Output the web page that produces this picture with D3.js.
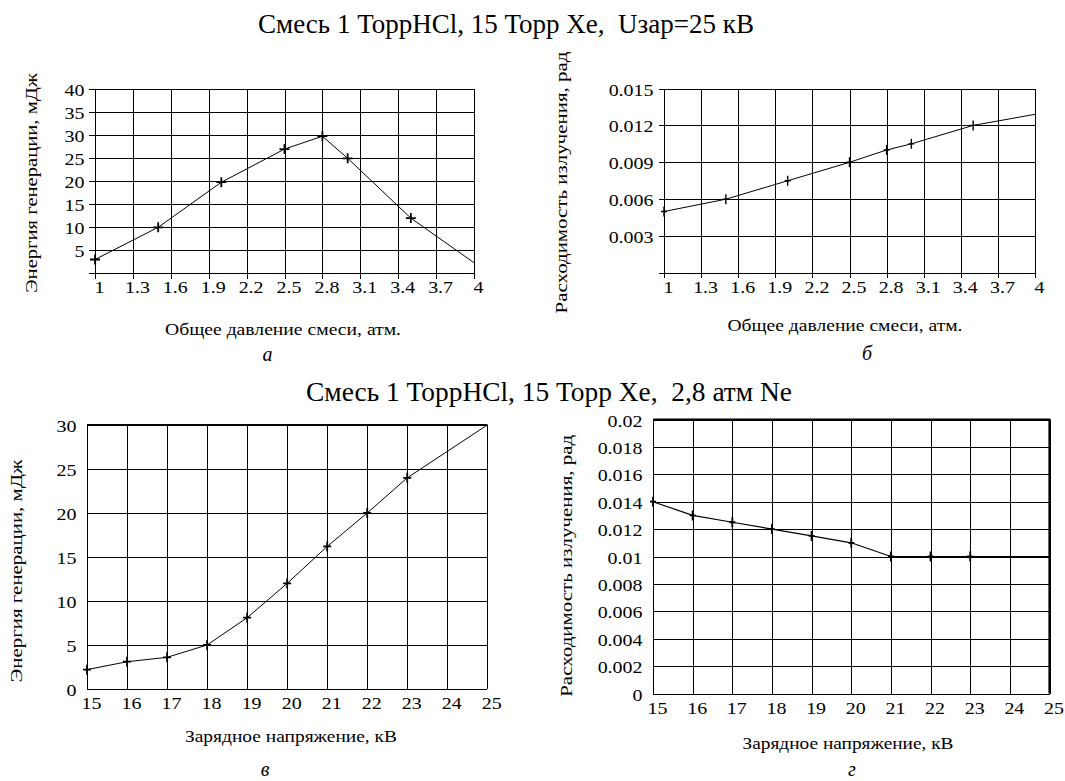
<!DOCTYPE html>
<html><head><meta charset="utf-8">
<script src="https://cdn.jsdelivr.net/npm/d3@7"></script>
<style>
body{margin:0;background:#fff}
svg, svg text{font-family:"Liberation Serif","Times New Roman","DejaVu Serif",serif;fill:#000}
</style>
</head><body>
<svg id="chart" width="1065" height="781" font-family="Liberation Serif"></svg>
<script>
// ---------- data ----------
const titleTop = "Смесь 1 ТоррHCl, 15 Торр Xe,  Uзар=25 кВ";
const titleBottom = "Смесь 1 ТоррHCl, 15 Торр Xe,  2,8 атм Ne";

const pressureA = [1.0, 1.5, 2.0, 2.5, 2.8, 3.0, 3.5, 4.0];
const energyA   = [3.0, 10.0, 19.8, 27.0, 29.8, 25.0, 12.0, 2.3];

const pressureB   = [1.0, 1.5, 2.0, 2.5, 2.8, 3.0, 3.5, 4.0];
const divergenceB = [0.0050, 0.0060, 0.0075, 0.0090, 0.0100, 0.0105, 0.0120, 0.0129];

const voltageC = [15, 16, 17, 18, 19, 20, 21, 22, 23, 25];
const energyC  = [2.2, 3.1, 3.6, 5.0, 8.1, 12.0, 16.2, 20.0, 24.0, 30.0];

const voltageD    = [15, 16, 17, 18, 19, 20, 21, 22, 23, 25];
const divergenceD = [0.014, 0.013, 0.0125, 0.012, 0.0115, 0.011, 0.010, 0.010, 0.010, 0.010];

const ticksPressure = [1, 1.3, 1.6, 1.9, 2.2, 2.5, 2.8, 3.1, 3.4, 3.7, 4];
const ticksEnergyA  = [0, 5, 10, 15, 20, 25, 30, 35, 40];
const labelsEnergyA = ["", "5", "10", "15", "20", "25", "30", "35", "40"];
const ticksDivB     = [0, 0.003, 0.006, 0.009, 0.012, 0.015];
const labelsDivB    = ["", "0.003", "0.006", "0.009", "0.012", "0.015"];
const ticksVoltage  = [15, 16, 17, 18, 19, 20, 21, 22, 23, 24, 25];
const ticksEnergyC  = [0, 5, 10, 15, 20, 25, 30];
const labelsEnergyC = ["0", "5", "10", "15", "20", "25", "30"];
const ticksDivD     = [0, 0.002, 0.004, 0.006, 0.008, 0.01, 0.012, 0.014, 0.016, 0.018, 0.02];
const labelsDivD    = ["0", "0.002", "0.004", "0.006", "0.008", "0.01", "0.012", "0.014", "0.016", "0.018", "0.02"];

const yTitleEnergy = "Энергия генерации, мДж";
const yTitleDiv = "Расходимость излучения, рад";
const xTitlePressure = "Общее давление смеси, атм.";
const xTitleVoltage = "Зарядное напряжение, кВ";
const panelLetters = ["а", "б", "в", "г"];

// ---------- drawing ----------
const svg = d3.select("#chart");
const FONT = "Liberation Serif";
const FS = 17.5, SX = 1.14;

svg.append("text").attr("x", 506).attr("y", 33).attr("text-anchor", "middle")
  .attr("font-family", FONT).attr("font-size", 27.5).attr("textLength", 496).attr("lengthAdjust", "spacingAndGlyphs")
  .style("white-space", "pre").text(titleTop);
svg.append("text").attr("x", 549).attr("y", 401).attr("text-anchor", "middle")
  .attr("font-family", FONT).attr("font-size", 27.5).attr("textLength", 486).attr("lengthAdjust", "spacingAndGlyphs")
  .style("white-space", "pre").text(titleBottom);

function panel(c) {
  const g = svg.append("g");
  const x = d3.scaleLinear().domain(c.xDomain).range([c.left, c.right]);
  const y = d3.scaleLinear().domain(c.yDomain).range([c.bottom, c.top]);
  const w = c.right - c.left, h = c.bottom - c.top;

  const xa = g.append("g").attr("transform", `translate(0,${c.bottom})`)
    .call(d3.axisBottom(x).tickValues(c.xTicks).tickSizeInner(c.ext).tickSizeOuter(0).tickPadding(0)
      .tickFormat(d => String(d)))
    .attr("font-family", FONT).attr("font-size", FS);
  xa.select(".domain").remove();
  xa.selectAll(".tick line").attr("y1", -h).attr("stroke", "#000").attr("shape-rendering", "crispEdges");
  xa.selectAll(".tick text").attr("y", 0).attr("dy", null).attr("fill", "#000")
    .attr("transform", `translate(4,20) scale(${SX},1)`);

  const ya = g.append("g").attr("transform", `translate(${c.left},0)`)
    .call(d3.axisLeft(y).tickValues(c.yTicks).tickSizeInner(c.ext).tickSizeOuter(0).tickPadding(0)
      .tickFormat((d, i) => c.yLabels[i]))
    .attr("font-family", FONT).attr("font-size", FS);
  ya.select(".domain").remove();
  ya.selectAll(".tick line").attr("x1", w).attr("stroke", "#000").attr("shape-rendering", "crispEdges");
  ya.selectAll(".tick text").attr("x", 0).attr("dy", null).attr("fill", "#000")
    .attr("transform", `translate(-10.5,6.5) scale(${SX},1)`);

  // frame
  g.append("line").attr("x1", c.left).attr("x2", c.left).attr("y1", c.top).attr("y2", c.bottom)
    .attr("stroke", "#000").attr("shape-rendering", "crispEdges");
  if (c.thickTop) g.append("line").attr("x1", c.left).attr("x2", c.right + (c.thickRight ? 1 : 0))
    .attr("y1", c.top).attr("y2", c.top).attr("stroke", "#000").attr("stroke-width", 2.2);
  if (c.thickRight) g.append("line").attr("x1", c.right).attr("x2", c.right)
    .attr("y1", c.top).attr("y2", c.bottom).attr("stroke", "#000").attr("stroke-width", 2.2);

  // data line
  const pts = c.xs.map((v, i) => [v, c.ys[i]]);
  g.append("path").datum(pts)
    .attr("d", d3.line().x(d => x(d[0])).y(d => y(d[1])))
    .attr("fill", "none").attr("stroke", "#000").attr("stroke-width", c.lineW || 1);
  // measured points carry a "+" marker; the line's end point on the frame is unmarked
  g.selectAll(".mk").data(pts.slice(0, -1)).join("path")
    .attr("d", d => {
      const px = x(d[0]), py = y(d[1]);
      return `M${px - c.mh},${py}h${2 * c.mh}M${px},${py - c.mv}v${2 * c.mv}`;
    })
    .attr("stroke", "#000").attr("stroke-width", c.mw);

  // titles
  g.append("text").attr("transform", `translate(${c.yTitleX},${c.yTitleY}) rotate(-90)`)
    .attr("text-anchor", "middle").attr("font-family", FONT).attr("font-size", FS)
    .attr("textLength", c.yTitleLen).attr("lengthAdjust", "spacingAndGlyphs").text(c.yTitle);
  g.append("text").attr("x", c.xTitleX).attr("y", c.xTitleY).attr("text-anchor", "middle")
    .attr("font-family", FONT).attr("font-size", FS)
    .attr("textLength", c.xTitleLen).attr("lengthAdjust", "spacingAndGlyphs")
    .text(c.xTitle);
  g.append("text").attr("x", c.letterX).attr("y", c.letterY).attr("text-anchor", "middle")
    .attr("font-family", FONT).attr("font-size", 20).attr("font-style", "italic").text(c.letter);
}

panel({
  left: 95, right: 474, top: 89.3, bottom: 273.3, ext: 6,
  xDomain: [1, 4], yDomain: [0, 40], xTicks: ticksPressure, yTicks: ticksEnergyA, yLabels: labelsEnergyA,
  xs: pressureA, ys: energyA, mh: 5, mv: 5, mw: 1.8,
  yTitle: yTitleEnergy, yTitleX: 37, yTitleY: 183, yTitleLen: 220,
  xTitle: xTitlePressure, xTitleX: 283, xTitleY: 334.5, xTitleLen: 236,
  letter: panelLetters[0], letterX: 267.5, letterY: 361
});
panel({
  left: 664, right: 1035, top: 88.5, bottom: 273, ext: 5,
  xDomain: [1, 4], yDomain: [0, 0.015], xTicks: ticksPressure, yTicks: ticksDivB, yLabels: labelsDivB,
  xs: pressureB, ys: divergenceB, mh: 3, mv: 5, mw: 1.4,
  yTitle: yTitleDiv, yTitleX: 567, yTitleY: 182.5, yTitleLen: 262,
  xTitle: xTitlePressure, xTitleX: 845, xTitleY: 331, xTitleLen: 235,
  letter: panelLetters[1], letterX: 867, letterY: 360
});
panel({
  left: 87, right: 487.3, top: 425, bottom: 689, ext: 0,
  xDomain: [15, 25], yDomain: [0, 30], xTicks: ticksVoltage, yTicks: ticksEnergyC, yLabels: labelsEnergyC,
  xs: voltageC, ys: energyC, mh: 4, mv: 5, mw: 1.8, thickTop: true,
  yTitle: yTitleEnergy, yTitleX: 22, yTitleY: 571, yTitleLen: 223,
  xTitle: xTitleVoltage, xTitleX: 291, xTitleY: 742, xTitleLen: 212,
  letter: panelLetters[2], letterX: 265, letterY: 776
});
panel({
  left: 653, right: 1049.5, top: 419.5, bottom: 693.5, ext: 0,
  xDomain: [15, 25], yDomain: [0, 0.02], xTicks: ticksVoltage, yTicks: ticksDivD, yLabels: labelsDivD,
  xs: voltageD, ys: divergenceD, mh: 3, mv: 5, mw: 1.8, lineW: 1.2, thickTop: true, thickRight: true,
  yTitle: yTitleDiv, yTitleX: 572, yTitleY: 565.8, yTitleLen: 262,
  xTitle: xTitleVoltage, xTitleX: 848, xTitleY: 749, xTitleLen: 211,
  letter: panelLetters[3], letterX: 852, letterY: 776
});
</script>
</body></html>
